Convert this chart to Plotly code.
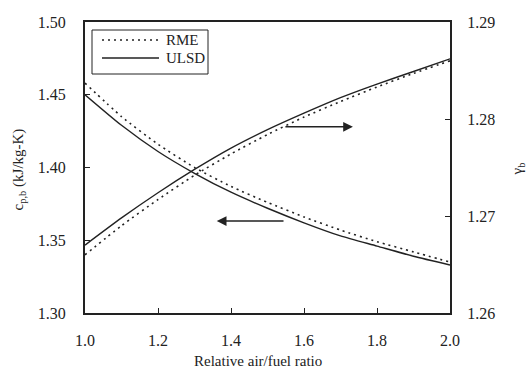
import plotly.graph_objects as go

# Data
lam = [1.0, 1.1, 1.2, 1.3, 1.4, 1.5, 1.6, 1.7, 1.8, 1.9, 2.0]
cp_rme = [1.458, 1.435, 1.416, 1.400, 1.387, 1.376, 1.366, 1.357, 1.349, 1.342, 1.335]
cp_ulsd = [1.450, 1.429, 1.411, 1.396, 1.383, 1.372, 1.362, 1.353, 1.346, 1.339, 1.333]
gam_rme = [1.2660, 1.2690, 1.2717, 1.2742, 1.2764, 1.2784, 1.2802, 1.2818, 1.2833, 1.2847, 1.2860]
gam_ulsd = [1.2670, 1.2698, 1.2724, 1.2748, 1.2770, 1.2789, 1.2806, 1.2822, 1.2836, 1.2849, 1.2862]
series_names = ["RME", "ULSD"]

FONT = "Liberation Serif"
INK = "#222222"
DOT = "2px,4px"

fig = go.Figure()
dot = dict(color=INK, width=1.6, dash=DOT, shape="spline", smoothing=0.6)
solid = dict(color=INK, width=1.4, shape="spline", smoothing=0.6)

fig.add_trace(go.Scatter(x=lam, y=cp_rme, mode="lines", line=dot, name=series_names[0]))
fig.add_trace(go.Scatter(x=lam, y=cp_ulsd, mode="lines", line=solid, name=series_names[1]))
fig.add_trace(go.Scatter(x=lam, y=gam_rme, mode="lines", line=dot, yaxis="y2", name=series_names[0]))
fig.add_trace(go.Scatter(x=lam, y=gam_ulsd, mode="lines", line=solid, yaxis="y2", name=series_names[1]))

axis_common = dict(showgrid=False, zeroline=False, showline=True, linecolor=INK, linewidth=2,
                   ticks="inside", ticklen=5, tickwidth=1, tickcolor=INK, automargin=False,
                   tickfont=dict(family=FONT, size=16, color=INK))

W, H = 529, 371
ML, MR, MT, MB = 85, 79, 22, 58
PW, PH = W - ML - MR, H - MT - MB

fig.update_layout(
    width=W, height=H,
    margin=dict(l=ML, r=MR, t=MT, b=MB),
    paper_bgcolor="white", plot_bgcolor="white",
    font=dict(family=FONT, color=INK),
    xaxis=dict(range=[1.0, 2.0], dtick=0.2, tick0=1.0, tickformat=".1f", mirror=True,
               ticklabelstandoff=12, **axis_common),
    yaxis=dict(range=[1.30, 1.50], dtick=0.05, tickformat=".2f", ticklabelstandoff=14,
               **axis_common),
    yaxis2=dict(range=[1.26, 1.29], dtick=0.01, tickformat=".2f", overlaying="y", side="right",
                ticklabelstandoff=12, **axis_common),
    showlegend=False,
)

def px(x):
    return (x - ML) / PW

def py(y):
    return (H - MB - y) / PH

# Legend box (drawn by hand for compact row spacing)
fig.add_shape(type="rect", xref="paper", yref="paper", x0=px(92), x1=px(208), y0=py(74), y1=py(30),
              line=dict(color=INK, width=1), fillcolor="white", layer="above")
for i, (nm, style) in enumerate(zip(series_names, [DOT, "solid"])):
    yy = 40 + 18 * i
    fig.add_shape(type="line", xref="paper", yref="paper", x0=px(102), x1=px(159), y0=py(yy), y1=py(yy),
                  line=dict(color=INK, width=1.6 if style == DOT else 1.4, dash=style), layer="above")
    fig.add_annotation(text=nm, xref="paper", yref="paper", x=px(164), y=py(yy), xanchor="left",
                       yanchor="middle", showarrow=False, font=dict(family=FONT, size=15, color=INK))

# Axis titles
title_font = dict(family=FONT, size=15, color=INK)
fig.add_annotation(text="Relative air/fuel ratio", xref="paper", yref="paper", x=0.5, y=0,
                   xshift=-10, yshift=-48, xanchor="center", yanchor="middle", showarrow=False, font=title_font)
fig.add_annotation(text="c<sub>p,b</sub> (kJ/kg-K)", xref="paper", yref="paper", x=0, y=0.5,
                   xshift=-67, yshift=-2, textangle=-90, xanchor="center", yanchor="middle",
                   showarrow=False, font=title_font)
fig.add_annotation(text="γ<sub>b</sub>", xref="paper", yref="paper", x=1, y=0.5,
                   xshift=67, yshift=-2, textangle=-90, xanchor="center", yanchor="middle",
                   showarrow=False, font=title_font)

# Direction arrows
fig.add_annotation(x=1.734, y=1.2792, ax=1.545, ay=1.2792, xref="x", yref="y2", axref="x", ayref="y2",
                   text="", showarrow=True, arrowhead=2, arrowsize=1.3, arrowwidth=1.5, arrowcolor=INK)
fig.add_annotation(x=1.361, y=1.3632, ax=1.548, ay=1.3632, xref="x", yref="y", axref="x", ayref="y",
                   text="", showarrow=True, arrowhead=2, arrowsize=1.3, arrowwidth=1.5, arrowcolor=INK)

fig.write_html("out.html")
